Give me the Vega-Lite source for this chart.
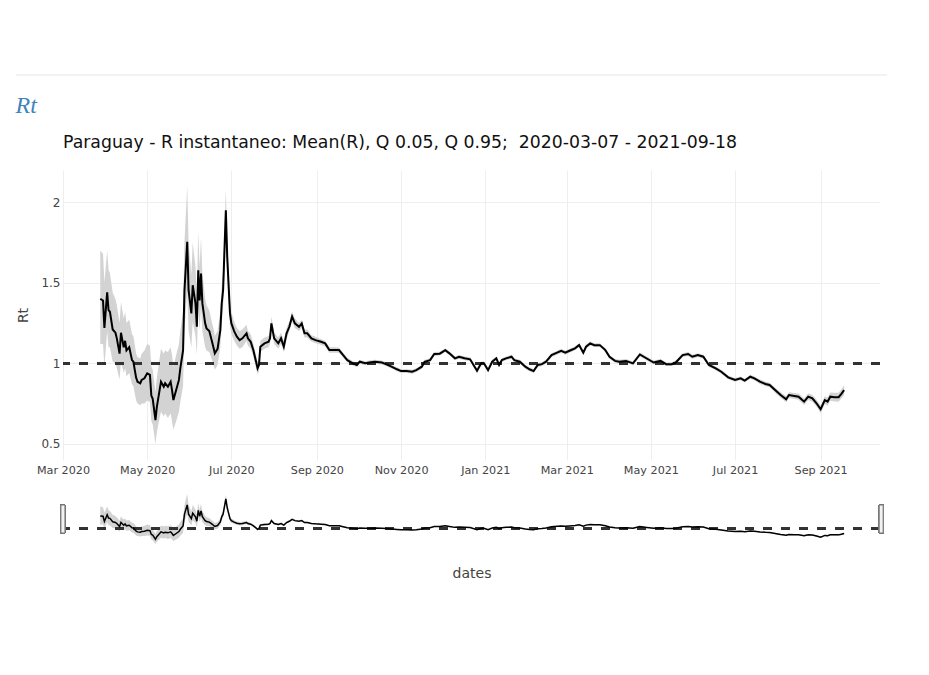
{
  "$schema": "https://vega.github.io/schema/vega-lite/v6.json",
  "background": "white",
  "padding": {"left": 15, "top": 74, "right": 5, "bottom": 5},
  "config": {
    "view": {"stroke": null},
    "font": "DejaVu Sans",
    "axis": {"labelFont": "DejaVu Sans", "labelFontSize": 12, "labelColor": "#444", "titleFont": "DejaVu Sans", "titleFontSize": 14, "titleFontWeight": "normal", "titleColor": "#444", "gridColor": "#eeeeee", "domain": false, "ticks": false}
  },
  "datasets": {
    "rt": [
      {"date": "2020-03-28", "r": 1.40, "lo": 1.12, "hi": 1.70},
      {"date": "2020-03-30", "r": 1.39, "lo": 1.12, "hi": 1.68},
      {"date": "2020-03-31", "r": 1.22, "lo": 0.98, "hi": 1.50},
      {"date": "2020-04-02", "r": 1.44, "lo": 1.20, "hi": 1.70},
      {"date": "2020-04-03", "r": 1.33, "lo": 1.10, "hi": 1.58},
      {"date": "2020-04-04", "r": 1.32, "lo": 1.10, "hi": 1.56},
      {"date": "2020-04-06", "r": 1.21, "lo": 1.01, "hi": 1.44},
      {"date": "2020-04-08", "r": 1.19, "lo": 1.00, "hi": 1.40},
      {"date": "2020-04-09", "r": 1.155, "lo": 0.97, "hi": 1.36},
      {"date": "2020-04-11", "r": 1.06, "lo": 0.90, "hi": 1.25},
      {"date": "2020-04-12", "r": 1.19, "lo": 1.01, "hi": 1.38},
      {"date": "2020-04-14", "r": 1.10, "lo": 0.94, "hi": 1.28},
      {"date": "2020-04-15", "r": 1.14, "lo": 0.97, "hi": 1.32},
      {"date": "2020-04-16", "r": 1.08, "lo": 0.92, "hi": 1.25},
      {"date": "2020-04-18", "r": 1.10, "lo": 0.94, "hi": 1.27},
      {"date": "2020-04-20", "r": 1.02, "lo": 0.87, "hi": 1.18},
      {"date": "2020-04-21", "r": 1.01, "lo": 0.86, "hi": 1.17},
      {"date": "2020-04-23", "r": 0.91, "lo": 0.77, "hi": 1.06},
      {"date": "2020-04-24", "r": 0.886, "lo": 0.75, "hi": 1.04},
      {"date": "2020-04-26", "r": 0.876, "lo": 0.74, "hi": 1.03},
      {"date": "2020-04-27", "r": 0.897, "lo": 0.75, "hi": 1.06},
      {"date": "2020-04-29", "r": 0.907, "lo": 0.75, "hi": 1.08},
      {"date": "2020-05-01", "r": 0.938, "lo": 0.77, "hi": 1.12},
      {"date": "2020-05-03", "r": 0.928, "lo": 0.76, "hi": 1.11},
      {"date": "2020-05-04", "r": 0.80, "lo": 0.64, "hi": 0.98},
      {"date": "2020-05-05", "r": 0.78, "lo": 0.62, "hi": 0.96},
      {"date": "2020-05-07", "r": 0.648, "lo": 0.50, "hi": 0.82},
      {"date": "2020-05-08", "r": 0.73, "lo": 0.57, "hi": 0.91},
      {"date": "2020-05-10", "r": 0.834, "lo": 0.66, "hi": 1.03},
      {"date": "2020-05-11", "r": 0.886, "lo": 0.70, "hi": 1.09},
      {"date": "2020-05-13", "r": 0.855, "lo": 0.67, "hi": 1.06},
      {"date": "2020-05-14", "r": 0.876, "lo": 0.69, "hi": 1.08},
      {"date": "2020-05-16", "r": 0.855, "lo": 0.66, "hi": 1.07},
      {"date": "2020-05-18", "r": 0.886, "lo": 0.69, "hi": 1.10},
      {"date": "2020-05-19", "r": 0.834, "lo": 0.64, "hi": 1.05},
      {"date": "2020-05-20", "r": 0.772, "lo": 0.59, "hi": 0.98},
      {"date": "2020-05-22", "r": 0.834, "lo": 0.64, "hi": 1.05},
      {"date": "2020-05-24", "r": 0.897, "lo": 0.70, "hi": 1.12},
      {"date": "2020-05-25", "r": 0.969, "lo": 0.76, "hi": 1.20},
      {"date": "2020-05-27", "r": 1.08, "lo": 0.86, "hi": 1.32},
      {"date": "2020-05-28", "r": 1.45, "lo": 1.20, "hi": 1.75},
      {"date": "2020-05-30", "r": 1.754, "lo": 1.45, "hi": 2.10},
      {"date": "2020-05-31", "r": 1.454, "lo": 1.20, "hi": 1.75},
      {"date": "2020-06-02", "r": 1.31, "lo": 1.10, "hi": 1.55},
      {"date": "2020-06-03", "r": 1.485, "lo": 1.26, "hi": 1.75},
      {"date": "2020-06-05", "r": 1.372, "lo": 1.17, "hi": 1.60},
      {"date": "2020-06-06", "r": 1.227, "lo": 1.05, "hi": 1.44},
      {"date": "2020-06-07", "r": 1.578, "lo": 1.36, "hi": 1.82},
      {"date": "2020-06-08", "r": 1.39, "lo": 1.20, "hi": 1.60},
      {"date": "2020-06-09", "r": 1.558, "lo": 1.35, "hi": 1.78},
      {"date": "2020-06-10", "r": 1.372, "lo": 1.20, "hi": 1.56},
      {"date": "2020-06-12", "r": 1.248, "lo": 1.10, "hi": 1.40},
      {"date": "2020-06-13", "r": 1.217, "lo": 1.08, "hi": 1.36},
      {"date": "2020-06-15", "r": 1.20, "lo": 1.07, "hi": 1.33},
      {"date": "2020-06-17", "r": 1.134, "lo": 1.02, "hi": 1.25},
      {"date": "2020-06-18", "r": 1.10, "lo": 0.99, "hi": 1.22},
      {"date": "2020-06-19", "r": 1.062, "lo": 0.96, "hi": 1.17},
      {"date": "2020-06-21", "r": 1.09, "lo": 0.99, "hi": 1.20},
      {"date": "2020-06-23", "r": 1.206, "lo": 1.10, "hi": 1.32},
      {"date": "2020-06-24", "r": 1.37, "lo": 1.26, "hi": 1.48},
      {"date": "2020-06-25", "r": 1.454, "lo": 1.34, "hi": 1.57},
      {"date": "2020-06-27", "r": 1.95, "lo": 1.82, "hi": 2.08},
      {"date": "2020-06-28", "r": 1.66, "lo": 1.55, "hi": 1.77},
      {"date": "2020-06-30", "r": 1.31, "lo": 1.23, "hi": 1.39},
      {"date": "2020-07-01", "r": 1.248, "lo": 1.18, "hi": 1.32},
      {"date": "2020-07-03", "r": 1.20, "lo": 1.14, "hi": 1.26},
      {"date": "2020-07-05", "r": 1.165, "lo": 1.11, "hi": 1.22},
      {"date": "2020-07-07", "r": 1.144, "lo": 1.09, "hi": 1.20},
      {"date": "2020-07-09", "r": 1.155, "lo": 1.10, "hi": 1.21},
      {"date": "2020-07-12", "r": 1.186, "lo": 1.14, "hi": 1.24},
      {"date": "2020-07-13", "r": 1.155, "lo": 1.11, "hi": 1.20},
      {"date": "2020-07-15", "r": 1.134, "lo": 1.09, "hi": 1.18},
      {"date": "2020-07-17", "r": 1.08, "lo": 1.04, "hi": 1.12},
      {"date": "2020-07-20", "r": 0.969, "lo": 0.93, "hi": 1.01},
      {"date": "2020-07-21", "r": 0.99, "lo": 0.95, "hi": 1.03},
      {"date": "2020-07-22", "r": 1.103, "lo": 1.07, "hi": 1.14},
      {"date": "2020-07-25", "r": 1.124, "lo": 1.09, "hi": 1.16},
      {"date": "2020-07-28", "r": 1.134, "lo": 1.10, "hi": 1.17},
      {"date": "2020-07-29", "r": 1.155, "lo": 1.12, "hi": 1.19},
      {"date": "2020-07-30", "r": 1.248, "lo": 1.21, "hi": 1.29},
      {"date": "2020-08-01", "r": 1.155, "lo": 1.12, "hi": 1.19},
      {"date": "2020-08-04", "r": 1.124, "lo": 1.09, "hi": 1.16},
      {"date": "2020-08-06", "r": 1.155, "lo": 1.12, "hi": 1.19},
      {"date": "2020-08-08", "r": 1.103, "lo": 1.07, "hi": 1.14},
      {"date": "2020-08-10", "r": 1.186, "lo": 1.15, "hi": 1.22},
      {"date": "2020-08-12", "r": 1.227, "lo": 1.20, "hi": 1.26},
      {"date": "2020-08-14", "r": 1.29, "lo": 1.26, "hi": 1.32},
      {"date": "2020-08-16", "r": 1.248, "lo": 1.22, "hi": 1.28},
      {"date": "2020-08-19", "r": 1.227, "lo": 1.20, "hi": 1.25},
      {"date": "2020-08-21", "r": 1.248, "lo": 1.22, "hi": 1.27},
      {"date": "2020-08-23", "r": 1.186, "lo": 1.16, "hi": 1.21},
      {"date": "2020-08-25", "r": 1.186, "lo": 1.16, "hi": 1.21},
      {"date": "2020-08-28", "r": 1.155, "lo": 1.135, "hi": 1.175},
      {"date": "2020-08-31", "r": 1.144, "lo": 1.125, "hi": 1.165},
      {"date": "2020-09-04", "r": 1.134, "lo": 1.115, "hi": 1.15},
      {"date": "2020-09-07", "r": 1.124, "lo": 1.105, "hi": 1.14},
      {"date": "2020-09-10", "r": 1.082, "lo": 1.065, "hi": 1.10},
      {"date": "2020-09-14", "r": 1.082, "lo": 1.065, "hi": 1.10},
      {"date": "2020-09-17", "r": 1.082, "lo": 1.066, "hi": 1.098},
      {"date": "2020-09-20", "r": 1.051, "lo": 1.036, "hi": 1.066},
      {"date": "2020-09-23", "r": 1.02, "lo": 1.006, "hi": 1.034},
      {"date": "2020-09-27", "r": 1.0, "lo": 0.987, "hi": 1.013},
      {"date": "2020-09-30", "r": 0.99, "lo": 0.978, "hi": 1.002},
      {"date": "2020-10-02", "r": 1.010, "lo": 0.998, "hi": 1.022},
      {"date": "2020-10-06", "r": 1.000, "lo": 0.988, "hi": 1.012},
      {"date": "2020-10-09", "r": 1.005, "lo": 0.993, "hi": 1.017},
      {"date": "2020-10-13", "r": 1.010, "lo": 0.998, "hi": 1.022},
      {"date": "2020-10-18", "r": 1.005, "lo": 0.993, "hi": 1.017},
      {"date": "2020-10-21", "r": 0.995, "lo": 0.983, "hi": 1.007},
      {"date": "2020-10-25", "r": 0.980, "lo": 0.968, "hi": 0.992},
      {"date": "2020-10-29", "r": 0.963, "lo": 0.951, "hi": 0.975},
      {"date": "2020-11-01", "r": 0.952, "lo": 0.940, "hi": 0.964},
      {"date": "2020-11-05", "r": 0.952, "lo": 0.940, "hi": 0.964},
      {"date": "2020-11-09", "r": 0.948, "lo": 0.936, "hi": 0.960},
      {"date": "2020-11-12", "r": 0.958, "lo": 0.946, "hi": 0.970},
      {"date": "2020-11-16", "r": 0.979, "lo": 0.967, "hi": 0.991},
      {"date": "2020-11-18", "r": 1.010, "lo": 0.998, "hi": 1.022},
      {"date": "2020-11-22", "r": 1.020, "lo": 1.008, "hi": 1.032},
      {"date": "2020-11-25", "r": 1.058, "lo": 1.046, "hi": 1.070},
      {"date": "2020-11-29", "r": 1.060, "lo": 1.048, "hi": 1.072},
      {"date": "2020-12-03", "r": 1.082, "lo": 1.070, "hi": 1.094},
      {"date": "2020-12-06", "r": 1.062, "lo": 1.050, "hi": 1.074},
      {"date": "2020-12-10", "r": 1.031, "lo": 1.019, "hi": 1.043},
      {"date": "2020-12-13", "r": 1.040, "lo": 1.028, "hi": 1.052},
      {"date": "2020-12-17", "r": 1.031, "lo": 1.019, "hi": 1.043},
      {"date": "2020-12-21", "r": 1.025, "lo": 1.013, "hi": 1.037},
      {"date": "2020-12-26", "r": 0.954, "lo": 0.942, "hi": 0.966},
      {"date": "2020-12-29", "r": 1.000, "lo": 0.988, "hi": 1.012},
      {"date": "2020-12-31", "r": 1.000, "lo": 0.988, "hi": 1.012},
      {"date": "2021-01-03", "r": 0.958, "lo": 0.946, "hi": 0.970},
      {"date": "2021-01-06", "r": 1.010, "lo": 0.998, "hi": 1.022},
      {"date": "2021-01-09", "r": 1.031, "lo": 1.019, "hi": 1.043},
      {"date": "2021-01-11", "r": 0.990, "lo": 0.978, "hi": 1.002},
      {"date": "2021-01-13", "r": 1.020, "lo": 1.008, "hi": 1.032},
      {"date": "2021-01-16", "r": 1.031, "lo": 1.019, "hi": 1.043},
      {"date": "2021-01-20", "r": 1.041, "lo": 1.029, "hi": 1.053},
      {"date": "2021-01-22", "r": 1.020, "lo": 1.008, "hi": 1.032},
      {"date": "2021-01-26", "r": 1.010, "lo": 0.998, "hi": 1.022},
      {"date": "2021-01-30", "r": 0.979, "lo": 0.967, "hi": 0.991},
      {"date": "2021-02-02", "r": 0.963, "lo": 0.951, "hi": 0.975},
      {"date": "2021-02-05", "r": 0.952, "lo": 0.940, "hi": 0.964},
      {"date": "2021-02-08", "r": 0.990, "lo": 0.978, "hi": 1.002},
      {"date": "2021-02-11", "r": 0.995, "lo": 0.983, "hi": 1.007},
      {"date": "2021-02-14", "r": 1.010, "lo": 0.998, "hi": 1.022},
      {"date": "2021-02-18", "r": 1.051, "lo": 1.039, "hi": 1.063},
      {"date": "2021-02-22", "r": 1.066, "lo": 1.054, "hi": 1.078},
      {"date": "2021-02-25", "r": 1.078, "lo": 1.066, "hi": 1.090},
      {"date": "2021-02-28", "r": 1.066, "lo": 1.054, "hi": 1.078},
      {"date": "2021-03-03", "r": 1.078, "lo": 1.066, "hi": 1.090},
      {"date": "2021-03-07", "r": 1.093, "lo": 1.081, "hi": 1.105},
      {"date": "2021-03-10", "r": 1.113, "lo": 1.101, "hi": 1.125},
      {"date": "2021-03-13", "r": 1.066, "lo": 1.054, "hi": 1.078},
      {"date": "2021-03-15", "r": 1.103, "lo": 1.091, "hi": 1.115},
      {"date": "2021-03-18", "r": 1.124, "lo": 1.112, "hi": 1.136},
      {"date": "2021-03-21", "r": 1.113, "lo": 1.101, "hi": 1.125},
      {"date": "2021-03-25", "r": 1.113, "lo": 1.101, "hi": 1.125},
      {"date": "2021-03-29", "r": 1.082, "lo": 1.070, "hi": 1.094},
      {"date": "2021-04-01", "r": 1.040, "lo": 1.028, "hi": 1.052},
      {"date": "2021-04-05", "r": 1.015, "lo": 1.003, "hi": 1.027},
      {"date": "2021-04-08", "r": 1.010, "lo": 0.998, "hi": 1.022},
      {"date": "2021-04-13", "r": 1.015, "lo": 1.003, "hi": 1.027},
      {"date": "2021-04-18", "r": 1.000, "lo": 0.988, "hi": 1.012},
      {"date": "2021-04-23", "r": 1.055, "lo": 1.043, "hi": 1.067},
      {"date": "2021-04-28", "r": 1.030, "lo": 1.018, "hi": 1.042},
      {"date": "2021-05-03", "r": 1.005, "lo": 0.993, "hi": 1.017},
      {"date": "2021-05-08", "r": 1.015, "lo": 1.003, "hi": 1.027},
      {"date": "2021-05-12", "r": 0.995, "lo": 0.983, "hi": 1.007},
      {"date": "2021-05-16", "r": 0.995, "lo": 0.983, "hi": 1.007},
      {"date": "2021-05-19", "r": 1.005, "lo": 0.993, "hi": 1.017},
      {"date": "2021-05-24", "r": 1.051, "lo": 1.039, "hi": 1.063},
      {"date": "2021-05-28", "r": 1.058, "lo": 1.046, "hi": 1.070},
      {"date": "2021-05-31", "r": 1.041, "lo": 1.029, "hi": 1.053},
      {"date": "2021-06-04", "r": 1.051, "lo": 1.039, "hi": 1.063},
      {"date": "2021-06-08", "r": 1.041, "lo": 1.029, "hi": 1.053},
      {"date": "2021-06-12", "r": 0.990, "lo": 0.978, "hi": 1.002},
      {"date": "2021-06-17", "r": 0.969, "lo": 0.957, "hi": 0.981},
      {"date": "2021-06-21", "r": 0.948, "lo": 0.936, "hi": 0.960},
      {"date": "2021-06-26", "r": 0.913, "lo": 0.901, "hi": 0.925},
      {"date": "2021-07-01", "r": 0.897, "lo": 0.885, "hi": 0.909},
      {"date": "2021-07-05", "r": 0.907, "lo": 0.895, "hi": 0.919},
      {"date": "2021-07-08", "r": 0.893, "lo": 0.881, "hi": 0.905},
      {"date": "2021-07-12", "r": 0.917, "lo": 0.905, "hi": 0.929},
      {"date": "2021-07-15", "r": 0.907, "lo": 0.895, "hi": 0.919},
      {"date": "2021-07-19", "r": 0.886, "lo": 0.872, "hi": 0.900},
      {"date": "2021-07-23", "r": 0.872, "lo": 0.858, "hi": 0.886},
      {"date": "2021-07-26", "r": 0.866, "lo": 0.852, "hi": 0.880},
      {"date": "2021-07-30", "r": 0.834, "lo": 0.818, "hi": 0.850},
      {"date": "2021-08-03", "r": 0.803, "lo": 0.786, "hi": 0.820},
      {"date": "2021-08-07", "r": 0.777, "lo": 0.759, "hi": 0.795},
      {"date": "2021-08-09", "r": 0.803, "lo": 0.785, "hi": 0.821},
      {"date": "2021-08-13", "r": 0.797, "lo": 0.778, "hi": 0.816},
      {"date": "2021-08-16", "r": 0.793, "lo": 0.774, "hi": 0.812},
      {"date": "2021-08-20", "r": 0.762, "lo": 0.742, "hi": 0.782},
      {"date": "2021-08-23", "r": 0.793, "lo": 0.772, "hi": 0.814},
      {"date": "2021-08-26", "r": 0.783, "lo": 0.762, "hi": 0.804},
      {"date": "2021-08-29", "r": 0.752, "lo": 0.730, "hi": 0.774},
      {"date": "2021-09-01", "r": 0.715, "lo": 0.692, "hi": 0.738},
      {"date": "2021-09-04", "r": 0.772, "lo": 0.748, "hi": 0.796},
      {"date": "2021-09-06", "r": 0.762, "lo": 0.737, "hi": 0.787},
      {"date": "2021-09-08", "r": 0.793, "lo": 0.767, "hi": 0.819},
      {"date": "2021-09-11", "r": 0.790, "lo": 0.763, "hi": 0.817},
      {"date": "2021-09-14", "r": 0.790, "lo": 0.762, "hi": 0.818},
      {"date": "2021-09-16", "r": 0.810, "lo": 0.781, "hi": 0.839},
      {"date": "2021-09-18", "r": 0.834, "lo": 0.804, "hi": 0.864}
    ]
  },
  "spacing": 15,
  "vconcat": [
    {
      "width": 817,
      "height": 1,
      "title": {"text": "Rt", "orient": "bottom", "anchor": "start", "frame": "bounds", "offset": 18, "font": "Liberation Serif", "fontStyle": "italic", "fontSize": 24, "fontWeight": "normal", "color": "#3f83bb"},
      "data": {"values": [{}]},
      "mark": {"type": "rule", "color": "#e5e5e5", "strokeWidth": 1},
      "encoding": {
        "x": {"datum": {"year": 2020, "month": 1, "date": 27, "utc": true}, "type": "temporal", "scale": {"type": "utc", "domain": [{"year": 2020, "month": 3, "date": 1, "utc": true}, {"year": 2021, "month": 10, "date": 14, "utc": true}]}, "axis": null},
        "x2": {"datum": {"year": 2021, "month": 10, "date": 19, "utc": true}},
        "y": {"datum": 1, "type": "quantitative", "scale": {"domain": [0, 1]}, "axis": null}
      }
    },
    {
      "width": 817,
      "height": 290,
      "title": {"text": "Paraguay - R instantaneo: Mean(R), Q 0.05, Q 0.95;\u00a0 2020-03-07 - 2021-09-18", "anchor": "start", "frame": "group", "fontSize": 17.3, "fontWeight": "normal", "color": "#111", "font": "DejaVu Sans", "offset": 19},
      "data": {"name": "rt"},
      "layer": [
        {
          "mark": {"type": "area", "color": "#d3d3d3"},
          "encoding": {
            "x": {"field": "date", "type": "temporal", "scale": {"type": "utc", "domain": [{"year": 2020, "month": 3, "date": 1, "utc": true}, {"year": 2021, "month": 10, "date": 14, "utc": true}]}, "axis": {"format": "%b %Y", "tickCount": {"interval": "month", "step": 2}, "labelFlush": false, "title": null, "labelPadding": 4, "labelFontSize": 11.2, "grid": true}},
            "y": {"field": "lo", "type": "quantitative", "scale": {"domain": [0.4, 2.2], "nice": false, "zero": false}, "axis": {"values": [0.5, 1, 1.5, 2], "format": "~g", "title": "Rt", "labelPadding": 3, "titlePadding": 10, "minExtent": 23, "maxExtent": 23, "grid": true}},
            "y2": {"field": "hi"}
          }
        },
        {
          "mark": {"type": "rule", "strokeDash": [9, 9], "strokeWidth": 2, "color": "#333"},
          "encoding": {"y": {"datum": 1}}
        },
        {
          "mark": {"type": "line", "color": "#000", "strokeWidth": 2},
          "encoding": {
            "x": {"field": "date", "type": "temporal"},
            "y": {"field": "r", "type": "quantitative"}
          }
        }
      ]
    },
    {
      "width": 817,
      "height": 56,
      "data": {"name": "rt"},
      "layer": [
        {
          "mark": {"type": "area", "color": "#d3d3d3"},
          "encoding": {
            "x": {"field": "date", "type": "temporal", "scale": {"type": "utc", "domain": [{"year": 2020, "month": 3, "date": 1, "utc": true}, {"year": 2021, "month": 10, "date": 14, "utc": true}]}, "axis": {"title": "dates", "labels": false, "grid": false, "titlePadding": 19, "minExtent": 0}},
            "y": {"field": "lo", "type": "quantitative", "scale": {"domain": [0.4, 2.2], "nice": false, "zero": false}, "axis": {"title": "Rt", "titleColor": "transparent", "labels": false, "grid": false, "titlePadding": 10, "minExtent": 23, "maxExtent": 23}},
            "y2": {"field": "hi"}
          }
        },
        {
          "mark": {"type": "rule", "strokeDash": [9, 9], "strokeWidth": 2, "color": "#333"},
          "encoding": {"y": {"datum": 1}}
        },
        {
          "mark": {"type": "line", "color": "#000", "strokeWidth": 1.5},
          "encoding": {
            "x": {"field": "date", "type": "temporal"},
            "y": {"field": "r", "type": "quantitative"}
          }
        },
        {
          "mark": {"type": "rect", "fill": "#f2f2f2", "stroke": "#777", "strokeWidth": 1},
          "encoding": {
            "x": {"datum": {"year": 2020, "month": 2, "date": 28, "hours": 12, "utc": true}, "type": "temporal"},
            "x2": {"datum": {"year": 2020, "month": 3, "date": 2, "hours": 10, "utc": true}},
            "y": {"datum": 1.75},
            "y2": {"datum": 0.85}
          }
        },
        {
          "mark": {"type": "rect", "fill": "#f2f2f2", "stroke": "#777", "strokeWidth": 1},
          "encoding": {
            "x": {"datum": {"year": 2021, "month": 10, "date": 13, "hours": 10, "utc": true}, "type": "temporal"},
            "x2": {"datum": {"year": 2021, "month": 10, "date": 16, "hours": 7, "utc": true}},
            "y": {"datum": 1.75},
            "y2": {"datum": 0.85}
          }
        }
      ]
    }
  ]
}
